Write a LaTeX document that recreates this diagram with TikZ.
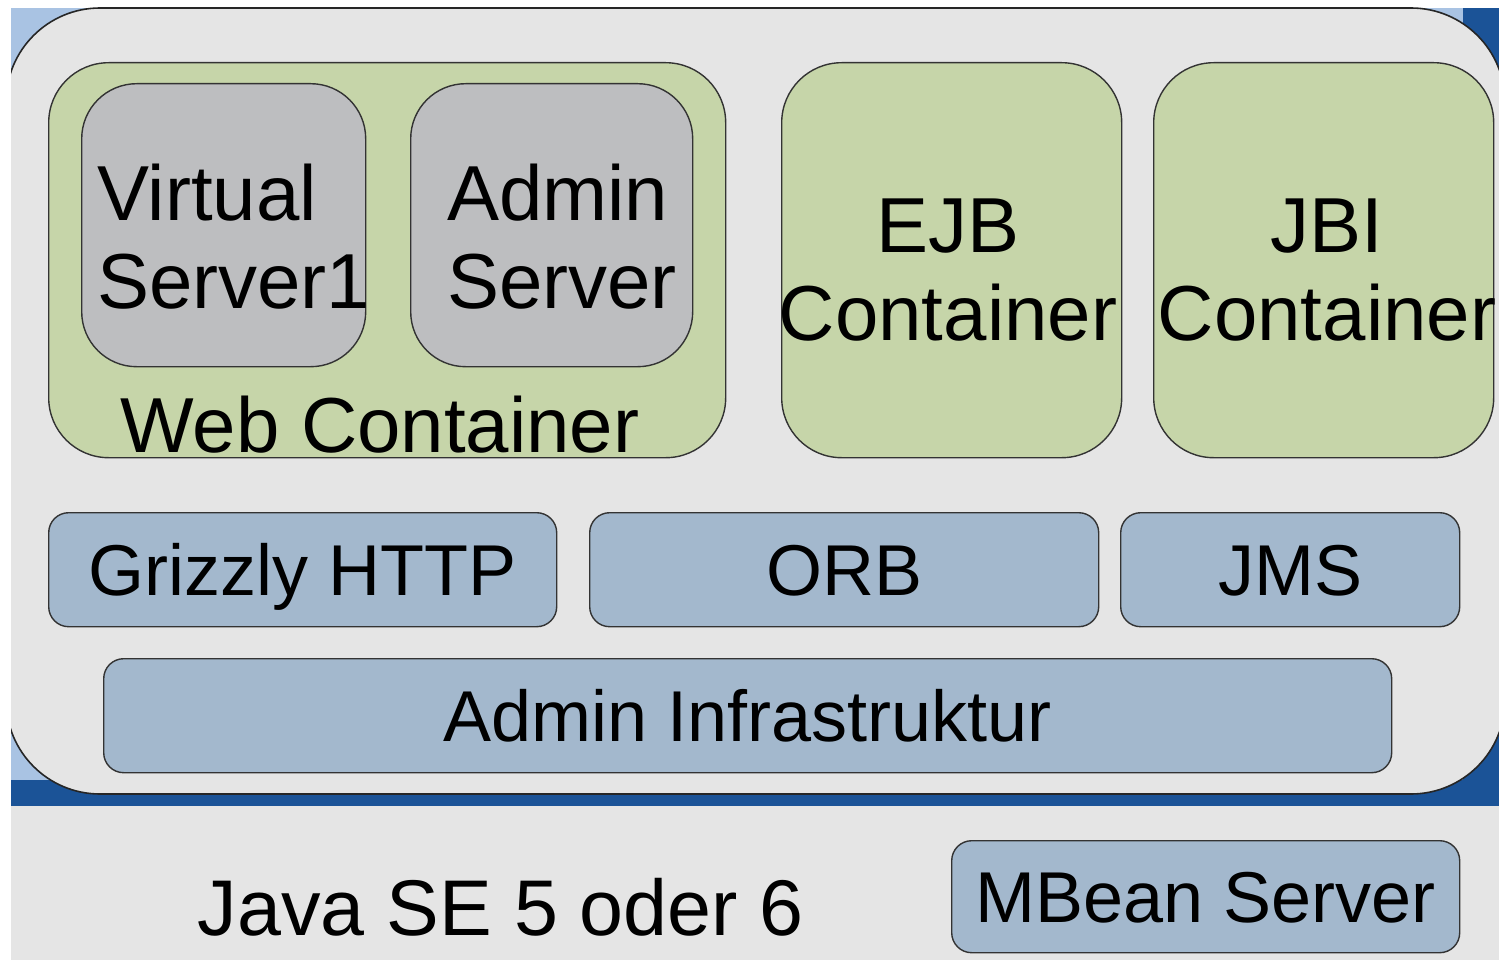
\documentclass[tikz,border=0pt]{standalone}
\usepackage{fontspec}
\setmainfont{Liberation Sans}
\usepackage{xcolor}
\usepackage{tikz}
\usetikzlibrary{shapes,positioning,calc}

\definecolor{pagegray}{HTML}{E5E5E5}
\definecolor{framelight}{HTML}{A9C3E3}
\definecolor{framedark}{HTML}{1B5397}
\definecolor{contgreen}{HTML}{C6D5A9}
\definecolor{srvgray}{HTML}{BDBEC0}
\definecolor{layerblue}{HTML}{A3B8CD}

\tikzset{
    boxbase/.style={draw=black!80, line width=1.4pt, rectangle, inner sep=0pt, anchor=north west},
    container/.style={boxbase, fill=contgreen, rounded corners=60},
    server/.style={boxbase, fill=srvgray, rounded corners=55},
    layer/.style={boxbase, fill=layerblue, rounded corners=20,
        font=\fontsize{72}{80}\selectfont, text height=52pt, text depth=0pt},
    bigtext/.style={inner sep=0pt, font=\fontsize{78}{88}\selectfont}
}

\begin{document}
\begin{tikzpicture}[x=1pt, y=-1pt]
    \useasboundingbox (0,0) rectangle (1499,960);
    % background and blue frame
    \fill[pagegray] (11,8) rectangle (1499,960);
    \fill[framedark] (11,8) rectangle (1499,806);
    \fill[framelight] (11,8) rectangle (1463,780);
    \begin{scope}
        \clip (11,8) rectangle (1499,806);
        \draw[fill=pagegray, draw=black!85, line width=1.6pt, rounded corners=94] (6,8) rectangle (1505,794);
    \end{scope}

    % containers
    \node[container, minimum width=677, minimum height=395] (web) at (48,62) {};
    \node[server, minimum width=284, minimum height=283] (vs1) at (81,83) {};
    \node[server, minimum width=282, minimum height=283] (adminsrv) at (410,83) {};
    \node[container, minimum width=340, minimum height=395] (ejb) at (781,62) {};
    \node[container, minimum width=340, minimum height=395] (jbi) at (1153,62) {};

    \node[bigtext, anchor=base west, align=left] (vs1text) at (97,308) {Virtual\\Server1};
    \node[bigtext, anchor=base west, align=left] (adminsrvtext) at (447,308) {Admin\\Server};
    \node[bigtext, anchor=base, align=center] (ejbtext) at (948,340) {EJB\\Container};
    \node[bigtext, anchor=base, align=center] (jbitext) at (1327,340) {JBI\\Container};
    \node[bigtext, anchor=base] (webtext) at (380,452) {Web Container};

    % layers
    \node[layer, minimum width=508, minimum height=114] (grizzly) at (48,512) {Grizzly HTTP};
    \node[layer, minimum width=509, minimum height=114] (orb) at (589,512) {ORB};
    \node[layer, minimum width=339, minimum height=114] (jms) at (1120,512) {JMS};
    \node[layer, minimum width=1288, minimum height=114] (admininfra) at (103,658) {Admin Infrastruktur};

    % java runtime
    \node[layer, minimum width=508, minimum height=112] (mbean) at (951,840) {MBean Server};
    \node[inner sep=0pt, anchor=base, font=\fontsize{79}{88}\selectfont] (javase) at (501,935) {Java SE 5 oder 6};
\end{tikzpicture}
\end{document}
